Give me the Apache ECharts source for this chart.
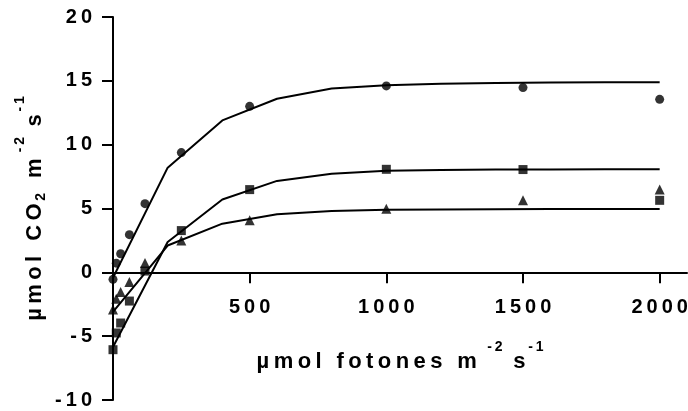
<!DOCTYPE html>
<html>
<head>
<meta charset="utf-8">
<script src="https://cdn.jsdelivr.net/npm/echarts@6/dist/echarts.min.js"></script>
<style>
  html, body { margin: 0; padding: 0; background: #fff; }
  #chart { width: 688px; height: 411px; }
</style>
</head>
<body>
<div id="chart"></div>
<script>
// Photosynthetic light response: net CO2 assimilation vs. photon flux density
const ppfd = [0, 12, 28, 60, 117, 250, 500, 1000, 1500, 2000];
const seriesCircle   = [-0.55, 0.72, 1.46, 2.95, 5.38, 9.38, 13.0, 14.6, 14.47, 13.55];
const seriesSquare   = [-6.06, -4.75, -3.97, -2.25, 0.1, 3.27, 6.48, 8.07, 8.05, 5.64];
const seriesTriangle = [-2.92, -2.06, -1.54, -0.76, 0.73, 2.5, 4.07, 4.99, 5.64, 6.48];

// Fitted response curves
const fitX        = [0, 200, 400, 600, 800, 1000, 1200, 1400, 1600, 1800, 2000];
const fitCircle   = [-0.42, 8.2, 11.9, 13.6, 14.4, 14.65, 14.78, 14.84, 14.87, 14.88, 14.89];
const fitSquare   = [-5.85, 2.38, 5.7, 7.16, 7.73, 7.95, 8.02, 8.05, 8.06, 8.07, 8.07];
const fitTriangle = [-3.1, 2.1, 3.81, 4.55, 4.8, 4.9, 4.93, 4.95, 4.96, 4.96, 4.96];

const xTicks = [500, 1000, 1500, 2000];
const yMin = -10, yMax = 20;

const FONT = '"Liberation Sans", Arial, sans-serif';
const TS = '\u2009';
const wide = s => String(s).split('').join(TS);

const pair = (xs, ys) => xs.map((x, i) => [x, ys[i]]);

const titleRich = {
  b:   { fontFamily: FONT, fontWeight: 'bold', fontSize: 22, color: '#000' },
  sup: { fontFamily: FONT, fontWeight: 'bold', fontSize: 14, color: '#000', padding: [0, 0, 30, 0] },
  sub: { fontFamily: FONT, fontWeight: 'bold', fontSize: 14, color: '#000', padding: [12, 0, 0, 0] }
};

const labelStyle = { color: '#000', fontFamily: FONT, fontWeight: 'bold', fontSize: 20 };

const GRID = { left: 113, right: 1, top: 17, bottom: 11 };
const H = 411;
// Lift the x axis from the bottom of the plot onto the y = 0 line
const plotH = H - GRID.top - GRID.bottom;
const zeroLift = -plotH * (0 - yMin) / (yMax - yMin);

const scatter = (data, symbol, size) => ({
  type: 'scatter', data, symbol, symbolSize: size,
  itemStyle: { color: '#000' }, z: 3
});
const fit = data => ({
  type: 'line', data, symbol: 'none', smooth: false,
  lineStyle: { color: '#000', width: 2 }, z: 2
});

const chart = echarts.init(document.getElementById('chart'), null, { renderer: 'canvas' });

chart.setOption({
  animation: false,
  backgroundColor: '#fff',
  grid: Object.assign({ outerBoundsMode: 'none', containLabel: false }, GRID),
  xAxis: {
    type: 'value', min: 0, max: 2100, interval: 500,
    position: 'bottom', offset: zeroLift,
    splitLine: { show: false },
    axisLine: { onZero: false, lineStyle: { color: '#000', width: 2 } },
    axisTick: { length: 11, customValues: xTicks, lineStyle: { color: '#000', width: 2 } },
    axisLabel: Object.assign({}, labelStyle, {
      margin: 25,
      formatter: v => (xTicks.indexOf(v) >= 0 ? wide(v) : '')
    }),
    name: '{b|' + wide('µmol') + TS + ' ' + TS + wide('fotones') + TS + ' ' + TS + 'm}{b| ' + TS + '}{sup|' + wide('-2') + '}{b| ' + TS + 's}{sup|' + TS + wide('-1') + '}',
    nameLocation: 'middle', nameGap: 68, nameMoveOverlap: false,
    nameTextStyle: { rich: titleRich }
  },
  yAxis: {
    type: 'value', min: yMin, max: yMax, interval: 5,
    splitLine: { show: false },
    axisLine: { lineStyle: { color: '#000', width: 2 } },
    axisTick: { length: 11, lineStyle: { color: '#000', width: 2 } },
    axisLabel: Object.assign({}, labelStyle, { margin: 21, formatter: v => wide(v) }),
    name: '{b|' + wide('µmol') + TS + ' ' + TS + wide('CO') + '}{sub|' + TS + '2}{b|' + TS + ' ' + TS + 'm}{b| }{sup|' + wide('-2') + '}{b| ' + TS + 's}{sup|' + TS + wide('-1') + '}',
    nameLocation: 'middle', nameRotate: 90, nameGap: 56, nameMoveOverlap: false,
    nameTextStyle: { rich: titleRich }
  },
  series: [
    fit(pair(fitX, fitCircle)),
    fit(pair(fitX, fitSquare)),
    fit(pair(fitX, fitTriangle)),
    scatter(pair(ppfd, seriesCircle), 'circle', 9),
    scatter(pair(ppfd, seriesSquare), 'rect', 9),
    scatter(pair(ppfd, seriesTriangle), 'triangle', 10)
  ]
});
</script>
</body>
</html>
